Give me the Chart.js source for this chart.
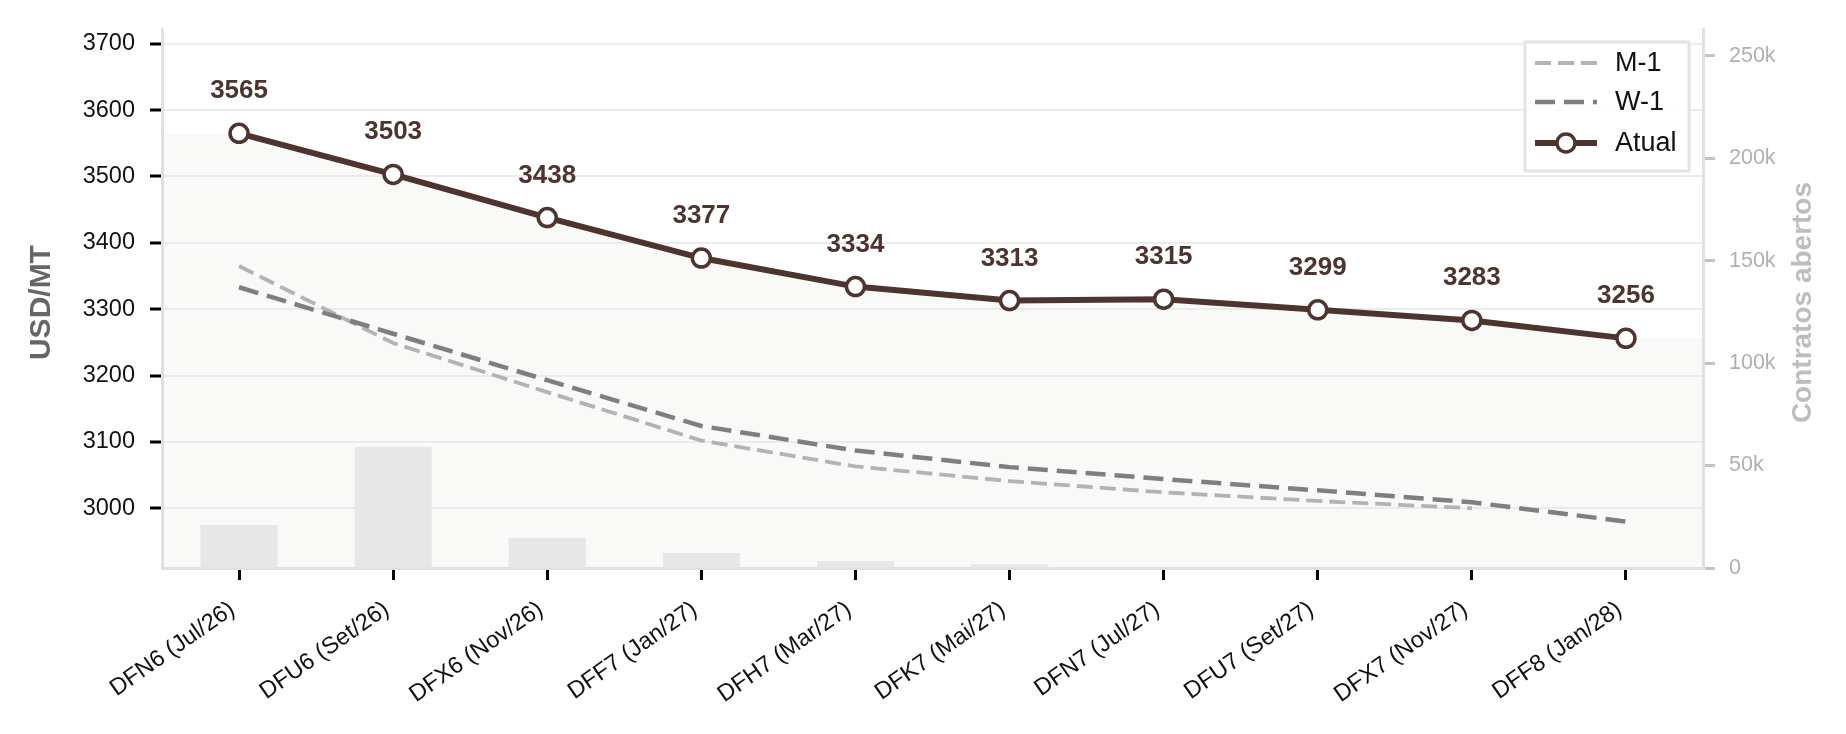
<!DOCTYPE html>
<html>
<head>
<meta charset="utf-8">
<title>Curva DF</title>
<script src="https://cdn.jsdelivr.net/npm/chart.js@4.4.1/dist/chart.umd.min.js"></script>
<style>
    body { margin: 0; background: #fff; }
    #wrap { width: 1846px; height: 734px; position: relative; }
</style>
</head>
<body>
<div id="wrap"><canvas id="curve"></canvas></div>
<script>
const contracts = ['DFN6 (Jul/26)', 'DFU6 (Set/26)', 'DFX6 (Nov/26)', 'DFF7 (Jan/27)', 'DFH7 (Mar/27)',
    'DFK7 (Mai/27)', 'DFN7 (Jul/27)', 'DFU7 (Set/27)', 'DFX7 (Nov/27)', 'DFF8 (Jan/28)'];
const atual = [3565, 3503, 3438, 3377, 3334, 3313, 3315, 3299, 3283, 3256];
const weekAgo = [3333, 3263, 3193, 3124, 3087, 3062, 3044, 3027, 3009, 2980];
const monthAgo = [3365, 3249, 3175, 3102, 3063, 3041, 3024, 3011, 3000, null];
// open interest, thousands of contracts
const openInterestK = [21, 59, 14.6, 7.3, 3.4, 1.8, 0, 0, 0, 0];

const FONT = "'Liberation Sans', Arial, sans-serif";
const BROWN = '#4e342e';
const TICK_SIZE = 23.5;

// light fill under the current curve, stretched to both plot edges
const areaFill = {
    id: 'areaFill',
    beforeDraw(chart) {
        const {ctx, chartArea: a, scales} = chart;
        const meta = chart.getDatasetMeta(3);
        ctx.save();
        ctx.fillStyle = '#f9f9f8';
        ctx.beginPath();
        ctx.moveTo(a.left, a.bottom);
        ctx.lineTo(a.left, scales.y.getPixelForValue(atual[0]));
        meta.data.forEach(p => ctx.lineTo(p.x, p.y));
        ctx.lineTo(a.right, scales.y.getPixelForValue(atual[atual.length - 1]));
        ctx.lineTo(a.right, a.bottom);
        ctx.closePath();
        ctx.fill();
        ctx.restore();
    }
};

const extras = {
    id: 'extras',
    afterDatasetsDraw(chart) {
        const ctx = chart.ctx;
        const meta = chart.getDatasetMeta(3);
        ctx.save();
        ctx.font = 'bold 26px ' + FONT;
        ctx.fillStyle = BROWN;
        ctx.textAlign = 'center';
        ctx.textBaseline = 'alphabetic';
        meta.data.forEach((p, i) => ctx.fillText(String(atual[i]), p.x, p.y - 35));
        ctx.restore();
    },
    afterDraw(chart) {
        const ctx = chart.ctx;
        const a = chart.chartArea;
        const xs = chart.scales.x;
        const midY = (a.top + a.bottom) / 2 + 4;
        ctx.save();

        // rotated category labels, right end hanging from the tick
        const ang = 35 * Math.PI / 180;
        const boxH = TICK_SIZE * 1.12;
        ctx.font = TICK_SIZE + 'px ' + FONT;
        ctx.fillStyle = '#111';
        ctx.textAlign = 'right';
        ctx.textBaseline = 'alphabetic';
        contracts.forEach((lab, i) => {
            const x = xs.getPixelForTick(i);
            ctx.setTransform(1, 0, 0, 1, x, a.bottom + 27 + boxH * Math.cos(ang));
            ctx.rotate(-ang);
            ctx.fillText(lab, 0, -TICK_SIZE * 0.21);
        });
        ctx.setTransform(1, 0, 0, 1, 0, 0);

        // axis titles
        ctx.textAlign = 'center';
        ctx.textBaseline = 'middle';
        ctx.font = 'bold 30px ' + FONT;
        ctx.fillStyle = '#666';
        ctx.translate(42, midY);
        ctx.rotate(-Math.PI / 2);
        ctx.fillText('USD/MT', 0, 0);
        ctx.setTransform(1, 0, 0, 1, 0, 0);
        ctx.font = 'bold 28px ' + FONT;
        ctx.fillStyle = '#bdbdbd';
        ctx.translate(1803, midY);
        ctx.rotate(-Math.PI / 2);
        ctx.fillText('Contratos abertos', 0, 0);
        ctx.setTransform(1, 0, 0, 1, 0, 0);

        // legend
        const bx = 1525, by = 42, bw = 164, bh = 129;
        ctx.fillStyle = 'rgba(255,255,255,0.9)';
        ctx.fillRect(bx, by, bw, bh);
        ctx.strokeStyle = '#e3e3e3';
        ctx.lineWidth = 3;
        ctx.strokeRect(bx, by, bw, bh);
        const rowY = [63, 102, 143];
        ctx.font = '27px ' + FONT;
        ctx.textAlign = 'left';
        ctx.textBaseline = 'middle';
        [1, 2, 3].forEach((idx, r) => {
            const ds = chart.data.datasets[idx];
            const y = rowY[r];
            ctx.beginPath();
            ctx.setLineDash(ds.borderDash || []);
            ctx.strokeStyle = ds.borderColor;
            ctx.lineWidth = ds.borderWidth;
            ctx.moveTo(1535, y);
            ctx.lineTo(1597, y);
            ctx.stroke();
            ctx.setLineDash([]);
            if (ds.pointRadius) {
                ctx.beginPath();
                ctx.arc(1566, y, ds.pointRadius, 0, Math.PI * 2);
                ctx.fillStyle = ds.pointBackgroundColor;
                ctx.fill();
                ctx.lineWidth = ds.pointBorderWidth;
                ctx.strokeStyle = ds.borderColor;
                ctx.stroke();
            }
            ctx.fillStyle = '#111';
            ctx.fillText(ds.label, 1615, y + 1);
        });
        ctx.restore();
    }
};

const chart = new Chart(
    document.getElementById('curve'),
    {
        type: 'line',
        data: {
            labels: contracts,
            datasets: [
                {
                    type: 'bar',
                    label: 'Contratos abertos',
                    data: openInterestK,
                    yAxisID: 'y2',
                    backgroundColor: '#e7e7e7',
                    barPercentage: 0.5,
                    categoryPercentage: 1,
                    order: 4
                },
                {
                    label: 'M-1',
                    data: monthAgo,
                    borderColor: '#b3b3b3',
                    borderWidth: 3.8,
                    borderDash: [16, 7],
                    pointRadius: 0,
                    tension: 0,
                    order: 3
                },
                {
                    label: 'W-1',
                    data: weekAgo,
                    borderColor: '#7f7f7f',
                    borderWidth: 4.5,
                    borderDash: [20, 9],
                    pointRadius: 0,
                    tension: 0,
                    order: 2
                },
                {
                    label: 'Atual',
                    data: atual,
                    borderColor: BROWN,
                    borderWidth: 6,
                    pointRadius: 9,
                    pointBorderWidth: 3.5,
                    pointBackgroundColor: '#ffffff',
                    pointBorderColor: BROWN,
                    tension: 0,
                    order: 1
                }
            ]
        },
        options: {
            responsive: true,
            maintainAspectRatio: false,
            animation: false,
            events: [],
            layout: { padding: { top: 27, left: 0, right: 0, bottom: 0 } },
            plugins: {
                legend: { display: false },
                tooltip: { enabled: false }
            },
            scales: {
                x: {
                    offset: true,
                    grid: {
                        offset: false,
                        drawOnChartArea: false,
                        tickLength: 12,
                        tickWidth: 3,
                        tickColor: '#000'
                    },
                    border: { color: '#e0e0e0', width: 3 },
                    ticks: { display: false, autoSkip: false },
                    afterFit: s => { s.height = 166; }
                },
                y: {
                    position: 'left',
                    min: 2910,
                    max: 3722,
                    grid: {
                        color: '#ebebeb',
                        lineWidth: 2,
                        borderDash: [12, 5],
                        tickLength: 12,
                        tickWidth: 3,
                        tickColor: '#000',
                        tickBorderDash: []
                    },
                    border: { color: '#e0e0e0', width: 3 },
                    ticks: {
                        stepSize: 100,
                        includeBounds: false,
                        padding: 15,
                        color: '#111',
                        font: { family: FONT, size: TICK_SIZE },
                        callback: v => String(v)
                    },
                    afterFit: s => { s.width = 162; }
                },
                y2: {
                    position: 'right',
                    min: 0,
                    max: 263,
                    grid: {
                        drawOnChartArea: false,
                        tickLength: 12,
                        tickWidth: 3,
                        tickColor: '#c4c4c4'
                    },
                    border: { color: '#e0e0e0', width: 3 },
                    ticks: {
                        stepSize: 50,
                        includeBounds: false,
                        padding: 14,
                        color: '#b0b0b0',
                        font: { family: FONT, size: 21.5 },
                        callback: v => v === 0 ? '0' : v + 'k'
                    },
                    afterFit: s => { s.width = 143; }
                }
            }
        },
        plugins: [areaFill, extras]
    }
);
</script>
</body>
</html>
